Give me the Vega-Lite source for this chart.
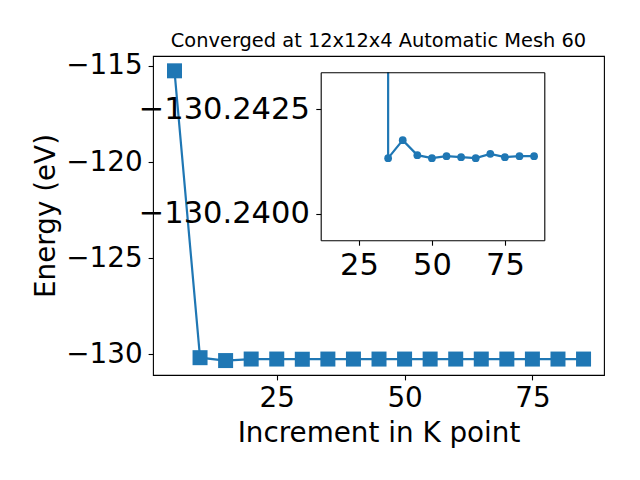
{
  "$schema": "https://vega.github.io/schema/vega-lite/v6.json",
  "width": 451,
  "height": 319,
  "autosize": {"type": "none"},
  "padding": {"left": 153, "top": 56, "right": 36, "bottom": 105},
  "background": "white",
  "title": {
    "text": "Converged at 12x12x4 Automatic Mesh 60",
    "font": "DejaVu Sans",
    "fontSize": 19.4,
    "fontWeight": "normal",
    "color": "black",
    "anchor": "middle",
    "frame": "group",
    "baseline": "alphabetic",
    "offset": 8,
    "dy": 23
  },
  "data": {
    "values": [
      {"k": 5, "E": -115.26},
      {"k": 10, "E": -130.17},
      {"k": 15, "E": -130.32},
      {"k": 20, "E": -130.24},
      {"k": 25, "E": -130.24},
      {"k": 30, "E": -130.25},
      {"k": 35, "E": -130.241331},
      {"k": 40, "E": -130.24176},
      {"k": 45, "E": -130.241403},
      {"k": 50, "E": -130.241331},
      {"k": 55, "E": -130.241379},
      {"k": 60, "E": -130.241355},
      {"k": 65, "E": -130.241331},
      {"k": 70, "E": -130.241434},
      {"k": 75, "E": -130.241355},
      {"k": 80, "E": -130.241379},
      {"k": 85, "E": -130.241379}
    ]
  },
  "layer": [
    {
      "encoding": {
        "x": {
          "field": "k", "type": "quantitative",
          "scale": {"domain": [0.8, 89], "nice": false, "zero": false},
          "axis": {"values": [25, 50, 75], "title": "Increment in K point", "labelPadding": 5, "titlePadding": 7, "domain": false}
        },
        "y": {
          "field": "E", "type": "quantitative",
          "scale": {"domain": [-131.07, -114.49], "nice": false, "zero": false},
          "axis": {"values": [-130, -125, -120, -115], "format": "d", "title": "Energy (eV)", "labelPadding": 6, "titlePadding": 5, "domain": false}
        }
      },
      "layer": [
        {"mark": {"type": "line", "color": "#1f77b4", "strokeWidth": 2.2}},
        {"mark": {"type": "point", "shape": "square", "filled": true, "size": 225, "opacity": 1, "color": "#1f77b4"}}
      ]
    },
    {
      "transform": [{"filter": "datum.k >= 35"}],
      "encoding": {
        "x": {
          "field": "k", "type": "quantitative",
          "scale": {"domain": [11.9, 88.5], "range": [167.7, 391.3], "nice": false, "zero": false},
          "axis": {"orient": "bottom", "offset": -134.7, "values": [25, 50, 75], "title": null, "labelFontSize": 30.5, "labelPadding": 5, "zindex": 1, "domain": true, "minExtent": 0, "maxExtent": 0}
        },
        "y": {
          "field": "E", "type": "quantitative",
          "scale": {"domain": [-130.24338, -130.23937], "range": [16.3, 184.3], "nice": false, "zero": false},
          "axis": {"orient": "left", "offset": -167.7, "values": [-130.2425, -130.24], "format": ".4f", "title": null, "labelFontSize": 30.5, "labelPadding": 6.5, "zindex": 1, "domain": true, "minExtent": 0, "maxExtent": 0}
        }
      },
      "layer": [
        {"mark": {"type": "line", "color": "#1f77b4", "strokeWidth": 2.2}},
        {"mark": {"type": "circle", "size": 60, "opacity": 1, "color": "#1f77b4"}},
        {
          "transform": [{"filter": "datum.k == 35"}],
          "mark": {"type": "rule", "color": "#1f77b4", "strokeWidth": 2.2},
          "encoding": {"y2": {"datum": -130.24338}}
        }
      ]
    },
    {
      "transform": [{"filter": "datum.k >= 35"}],
      "mark": {"type": "point", "opacity": 0},
      "encoding": {
        "x": {
          "field": "k", "type": "quantitative",
          "scale": {"domain": [11.9, 88.5], "range": [167.7, 391.3], "nice": false, "zero": false},
          "axis": {"orient": "top", "offset": -16.3, "labels": false, "ticks": false, "title": null, "domain": true, "zindex": 1, "minExtent": 0, "maxExtent": 0}
        },
        "y": {
          "field": "E", "type": "quantitative",
          "scale": {"domain": [-130.24338, -130.23937], "range": [16.3, 184.3], "nice": false, "zero": false},
          "axis": {"orient": "right", "offset": -59.7, "labels": false, "ticks": false, "title": null, "domain": true, "zindex": 1, "minExtent": 0, "maxExtent": 0}
        }
      }
    }
  ],
  "resolve": {
    "scale": {"x": "independent", "y": "independent"},
    "axis": {"x": "independent", "y": "independent"}
  },
  "config": {
    "font": "DejaVu Sans",
    "view": {"stroke": "black", "strokeWidth": 1.1},
    "axis": {
      "labelFont": "DejaVu Sans",
      "titleFont": "DejaVu Sans",
      "labelColor": "black",
      "titleColor": "black",
      "tickColor": "black",
      "domainColor": "black",
      "grid": false,
      "tickSize": 4.9,
      "tickWidth": 1.1,
      "domainWidth": 1.1,
      "titleFontWeight": "normal",
      "labelFontSize": 27.8,
      "titleFontSize": 27.8,
      "labelFlush": false,
      "labelOverlap": false
    }
  }
}
